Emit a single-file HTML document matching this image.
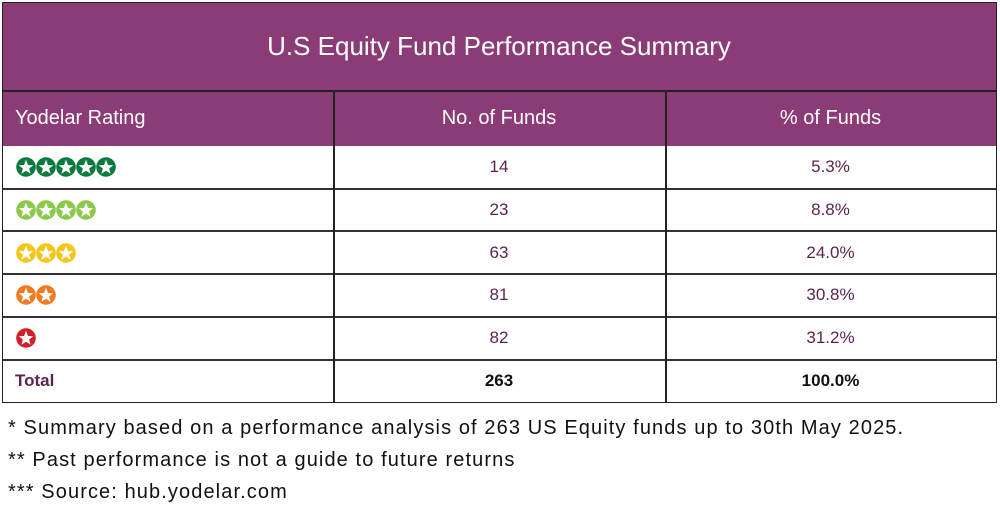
<!DOCTYPE html>
<html><head><meta charset="utf-8"><style>
body{margin:0;width:1000px;height:512px;background:#fff;font-family:"Liberation Sans",sans-serif;position:relative;overflow:hidden}
.a{position:absolute;box-sizing:border-box}
.band{background:#8B3B76;color:#fff}
.cell{display:flex;align-items:center;justify-content:center;color:#5a2450;font-size:17px}
.l{justify-content:flex-start;padding-left:13px}
.hline{position:absolute;left:2px;width:994px;height:2px;background:#333}
.vline{position:absolute;width:1.5px;background:#222}
.foot{position:absolute;left:8px;font-size:20px;letter-spacing:1.1px;color:#111}
</style></head><body>
<div class="a band" style="left:2px;top:2px;width:994px;height:89px;display:flex;align-items:center;justify-content:center;font-size:26px">U.S Equity Fund Performance Summary</div>
<div class="a band" style="left:2px;top:91px;width:994px;height:55px"></div>
<div class="a cell l" style="left:2px;top:91px;width:331px;height:55px;color:#fff;font-size:20px">Yodelar Rating</div>
<div class="a cell" style="left:333px;top:91px;width:332px;height:55px;color:#fff;font-size:20px">No. of Funds</div>
<div class="a cell" style="left:665px;top:91px;width:331px;height:55px;color:#fff;font-size:20px">% of Funds</div>
<div id="rows"></div>
<div class="a" style="left:2px;top:2px;width:995px;height:401px;border:1.5px solid #222"></div>
<div class="hline" style="top:90px;height:1.5px;background:#222"></div>
<div class="vline" style="left:333px;top:91px;height:312px"></div>
<div class="vline" style="left:665px;top:91px;height:312px"></div>
<div class="foot" style="top:417px">* Summary based on a performance analysis of 263 US Equity funds up to 30th May 2025.</div>
<div class="foot" style="top:449px">** Past performance is not a guide to future returns</div>
<div class="foot" style="top:481px">*** Source: hub.yodelar.com</div>
<script>
const ratings=[5,4,3,2,1];
const counts=["14","23","63","81","82"];
const pcts=["5.3%","8.8%","24.0%","30.8%","31.2%"];
const colors=["#0b7a3e","#8cc84b","#f5c518","#f47a20","#d2202a"];
const rowTop=146,rowH=42.7;
const root=document.getElementById('rows');
function star(c){return '<svg width="20" height="20" viewBox="0 0 20 20" style="margin-right:0"><circle cx="10" cy="10" r="9.8" fill="'+c+'"/><polygon fill="#fff" points="10,2.8 12,8 17.3,8.2 13.1,11.5 14.6,16.8 10,13.7 5.4,16.8 6.9,11.5 2.7,8.2 8,8"/></svg>';}
function add(html,name,l,t,w,h,cls,style){const d=document.createElement('div');d.className='a cell '+(cls||'');


d.style.cssText='left:'+l+'px;top:'+t+'px;width:'+w+'px;height:'+h+'px;'+(style||'');d.innerHTML=html;root.appendChild(d);}
for(let i=0;i<=ratings.length;i++){
 const t=rowTop+i*rowH;
 if(i>0){const ln=document.createElement('div');ln.className='hline';ln.style.top=(t-1)+'px';
 
 
 root.appendChild(ln);}
 if(i<ratings.length){
  let s='';for(let k=0;k<ratings[i];k++)s+=star(colors[i]);
  add(s,'rating-stars-'+ratings[i],2,t,331,rowH,'l','padding-left:14px');
  add(counts[i],'funds-count',333,t,332,rowH);
  add(pcts[i],'funds-pct',665,t,331,rowH);
 }else{
  add('Total','total-label',2,t,331,rowH,'l','font-weight:bold;font-size:17px');
  add('263','total-count',333,t,332,rowH,'','font-weight:bold;color:#111');
  add('100.0%','total-pct',665,t,331,rowH,'','font-weight:bold;color:#111');
 }
}
</script>
</body></html>
